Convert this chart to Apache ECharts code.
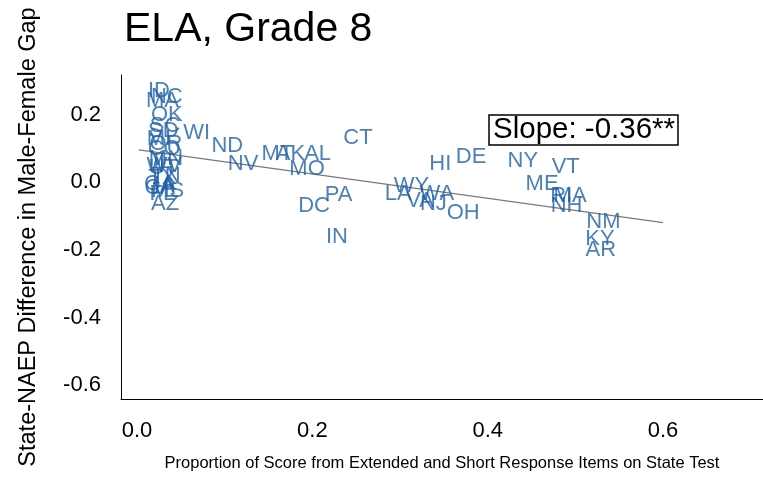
<!DOCTYPE html>
<html>
<head>
<meta charset="utf-8">
<script src="https://cdn.jsdelivr.net/npm/echarts@6/dist/echarts.min.js"></script>
<style>html,body{margin:0;padding:0;background:#fff;overflow:hidden}#c{width:763px;height:477px}</style>
</head>
<body>
<div id="c"></div>
<script>
const states = ['ID','NC','MA','OK','SC','SD','MI','OR','CO','MN','IL','WV','UT','TN','TX','GA','IA','CA','MS','FL','AZ',
  'WI','ND','NV','MT','AK','AL','MO','CT','PA','DC','IN','HI','DE','LA','WY','VA','WA','NJ','OH',
  'NY','VT','ME','RI','MA','NH','NM','KY','AR'];
const xVals = [0.025,0.034,0.029,0.034,0.032,0.030,0.025,0.033,0.031,0.033,0.029,0.031,0.030,0.033,0.029,0.026,0.031,0.026,0.035,0.029,0.032,
  0.068,0.103,0.121,0.160,0.175,0.206,0.194,0.252,0.230,0.202,0.228,0.346,0.381,0.298,0.313,0.323,0.342,0.338,0.372,
  0.440,0.489,0.462,0.484,0.494,0.490,0.532,0.528,0.529];
const yVals = [0.271,0.253,0.239,0.198,0.166,0.151,0.128,0.114,0.099,0.070,0.061,0.047,0.041,0.020,0.012,-0.006,-0.012,-0.017,-0.026,-0.035,-0.064,
  0.146,0.108,0.055,0.084,0.084,0.084,0.038,0.131,-0.038,-0.070,-0.163,0.055,0.076,-0.035,-0.012,-0.055,-0.035,-0.064,-0.090,
  0.064,0.044,-0.006,-0.041,-0.041,-0.070,-0.116,-0.166,-0.201];
const fitX = [0.002, 0.600];
const fitY = [0.096, -0.119];
const xTicks = [0, 0.2, 0.4, 0.6];
const yTicks = [0.2, 0, -0.2, -0.4, -0.6];
const slopeText = 'Slope: -0.36**';

const chart = echarts.init(document.getElementById('c'), null, { width: 763, height: 477 });
const pts = states.map((s, i) => ({ name: s, value: [xVals[i], yVals[i]] }));
chart.setOption({
  animation: false,
  backgroundColor: '#fff',
  title: [
    { text: 'ELA, Grade 8', left: 119, top: 4, textStyle: { fontFamily: 'Liberation Sans', fontSize: 41, fontWeight: 'normal', color: '#000' } },
    { text: slopeText, left: 489, top: 115, padding: [0, 3, 0, 4], borderColor: '#000', borderWidth: 1.5, backgroundColor: '#fff',
      textStyle: { fontFamily: 'Liberation Sans', fontSize: 29.5, lineHeight: 30, fontWeight: 'normal', color: '#000' } }
  ],
  grid: { left: 121, width: 642, top: 75, height: 329, containLabel: false },
  xAxis: {
    type: 'value', min: -0.01825, max: 0.714,
    name: 'Proportion of Score from Extended and Short Response Items on State Test',
    nameLocation: 'middle', nameGap: 56,
    nameTextStyle: { fontFamily: 'Liberation Sans', fontSize: 16.5, color: '#000' },
    axisLine: { show: true, onZero: false, lineStyle: { color: '#000', width: 1 } },
    axisTick: { show: false },
    splitLine: { show: false },
    axisLabel: { customValues: xTicks, formatter: v => v.toFixed(1), fontFamily: 'Liberation Sans', fontSize: 22, color: '#000', margin: 21 }
  },
  yAxis: {
    type: 'value', min: -0.6405, max: 0.317,
    name: 'State-NAEP Difference in Male-Female Gap',
    nameLocation: 'middle', nameGap: 80, nameRotate: 90,
    nameTextStyle: { fontFamily: 'Liberation Sans', fontSize: 23.5, color: '#000' },
    axisLine: { show: true, onZero: false, lineStyle: { color: '#000', width: 1 } },
    axisTick: { show: false },
    splitLine: { show: false },
    axisLabel: { customValues: yTicks, formatter: v => v.toFixed(1), fontFamily: 'Liberation Sans', fontSize: 22, color: '#000', margin: 20 }
  },
  series: [
    {
      type: 'line', data: fitX.map((x, i) => [x, fitY[i]]), symbol: 'none',
      lineStyle: { color: '#7a7a7a', width: 1.3 }, z: 1
    },
    {
      type: 'scatter', data: pts, symbolSize: 1, itemStyle: { color: 'rgba(0,0,0,0)' }, z: 2,
      label: { show: true, position: 'inside', formatter: p => p.name, fontFamily: 'Liberation Sans', fontSize: 22, color: '#1f60a8' }
    }
  ]
});
</script>
</body>
</html>
